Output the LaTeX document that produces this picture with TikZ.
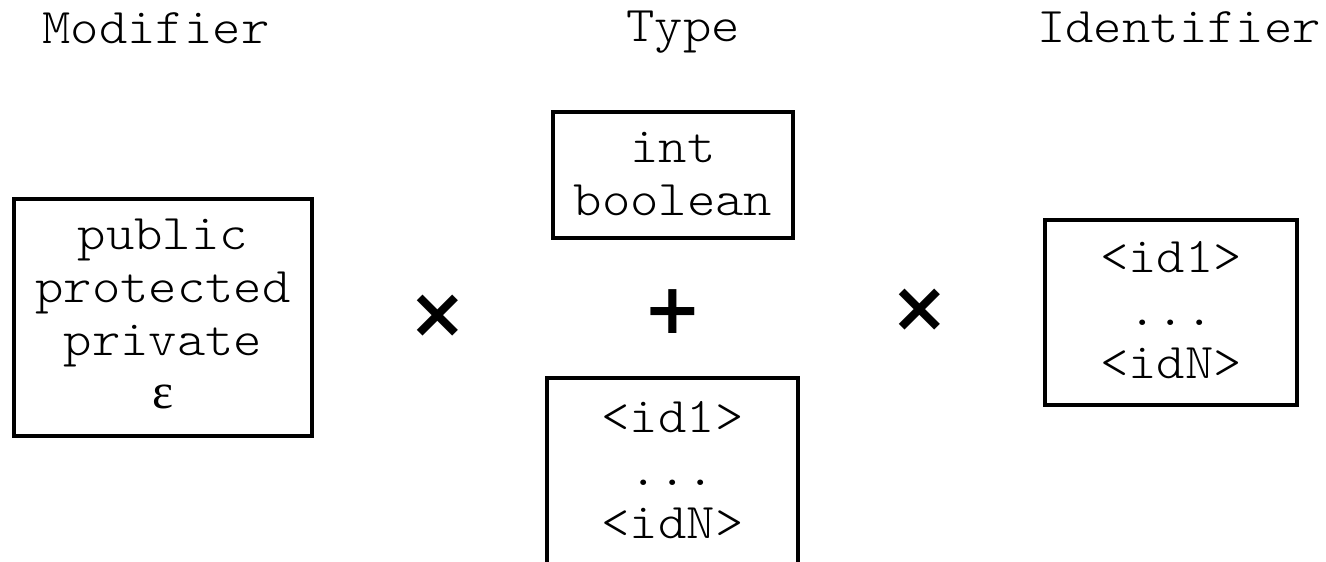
\documentclass[tikz,border=0pt]{standalone}
\usepackage{fontspec}
\setmonofont{lmmonolt10-regular.otf}[FakeStretch=1.08]
\newfontfamily\epsfont{Liberation Serif}
\newfontfamily\opfont{DejaVu Sans Bold}
\begin{document}
\begin{tikzpicture}[x=1pt,y=-1pt,
  every node/.style={inner sep=0pt, outer sep=0pt},
  lbl/.style={anchor=base, font=\fontsize{50}{53}\selectfont\ttfamily},
  % multi-line texts are placed by the baseline of their last line
  settext/.style={anchor=base, align=center, font=\fontsize{50}{53}\selectfont\ttfamily},
  setbox/.style={draw, line width=3.5pt, rectangle},
  op/.style={font=\fontsize{70}{70}\selectfont\opfont}]
\useasboundingbox (0,0) rectangle (1326,562);
\clip (0,0) rectangle (1326,562);

% column headings
\node[lbl] (hmod) at (156,43) {Modifier};
\node[lbl] (htype) at (683,41) {Type};
\node[lbl] (hid) at (1179,42) {Identifier};

% modifier set
\node[setbox, minimum width=298, minimum height=237] (modbox) at (163,317.5) {};
\node[settext] (mod) at (163,408) {public\\protected\\private\\{\epsfont ε}};

% primitive types
\node[setbox, minimum width=240, minimum height=126] (primbox) at (673,175) {};
\node[settext] (prim) at (673,215) {int\\boolean};

% class types (runs past the lower edge)
\node[setbox, minimum width=251, minimum height=240] (clsbox) at (672.5,498) {};
\node[settext] (cls) at (672.5,538) {<id1>\\...\\<idN>};

% identifiers
\node[setbox, minimum width=252, minimum height=185] (idbox) at (1171,312.5) {};
\node[settext] (ids) at (1171,378) {<id1>\\...\\<idN>};

% operators
\node[op] (times1) at (438,316) {×};
\node[op] (plus) at (673,312) {+};
\node[op] (times2) at (920,310) {×};
\end{tikzpicture}
\end{document}
